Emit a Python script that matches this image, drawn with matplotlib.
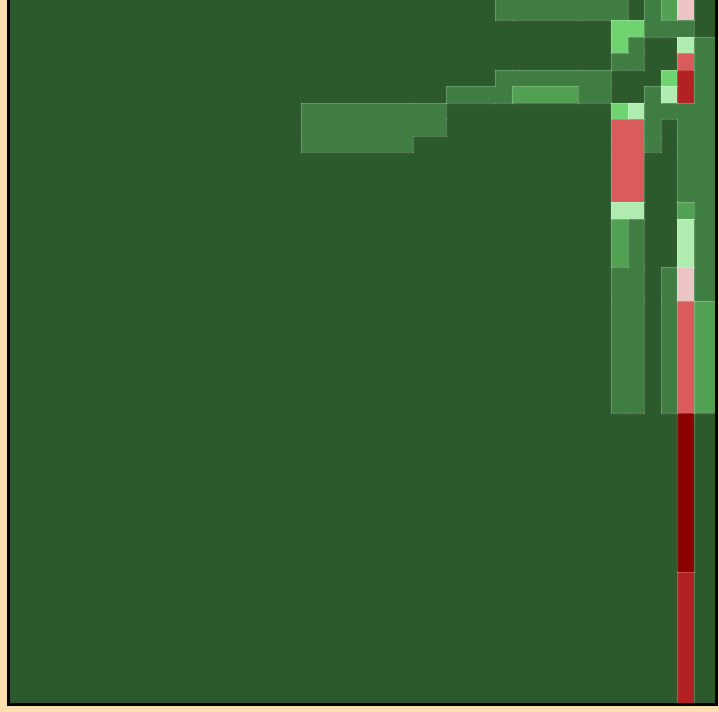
import matplotlib

matplotlib.use("Agg")

import matplotlib.pyplot as plt
import numpy as np
from matplotlib.colors import ListedColormap, BoundaryNorm

# column widths and row heights of the grid cells
col_widths = [293, 112, 33, 49, 17, 66, 33, 16.5, 16.5, 16.5, 16.5, 16.5, 22.5]
row_heights = [20, 16.5, 16.5, 16.5, 16.5, 16.5, 16.5, 16.5, 16.5,
               50, 16.5, 48.5, 33.5, 112, 159.5, 131.5]

# category of each cell (0 = background dark green ... 8 = dark red)
cells = [
    [0, 0, 0, 0, 1, 1, 1, 1, 0, 1, 2, 5, 0],
    [0, 0, 0, 0, 0, 0, 0, 3, 3, 1, 1, 1, 0],
    [0, 0, 0, 0, 0, 0, 0, 3, 1, 0, 0, 4, 1],
    [0, 0, 0, 0, 0, 0, 0, 1, 1, 0, 0, 6, 1],
    [0, 0, 0, 0, 1, 1, 1, 0, 0, 0, 3, 7, 1],
    [0, 0, 0, 1, 1, 2, 1, 0, 0, 1, 4, 7, 1],
    [0, 1, 1, 0, 0, 0, 0, 3, 4, 1, 1, 1, 1],
    [0, 1, 1, 0, 0, 0, 0, 6, 6, 1, 0, 1, 1],
    [0, 1, 0, 0, 0, 0, 0, 6, 6, 1, 0, 1, 1],
    [0, 0, 0, 0, 0, 0, 0, 6, 6, 0, 0, 1, 1],
    [0, 0, 0, 0, 0, 0, 0, 4, 4, 0, 0, 2, 1],
    [0, 0, 0, 0, 0, 0, 0, 2, 1, 0, 0, 4, 1],
    [0, 0, 0, 0, 0, 0, 0, 1, 1, 0, 1, 5, 1],
    [0, 0, 0, 0, 0, 0, 0, 1, 1, 0, 1, 6, 2],
    [0, 0, 0, 0, 0, 0, 0, 0, 0, 0, 0, 8, 0],
    [0, 0, 0, 0, 0, 0, 0, 0, 0, 0, 0, 7, 0],
]

palette = ["#2d5a2d", "#407d43", "#52a052", "#6fd46f", "#b0ecb0",
           "#ecc4c4", "#d95b5b", "#b22222", "#8b0000"]

x_edges = np.concatenate([[0], np.cumsum(col_widths)])
y_edges = np.concatenate([[0], np.cumsum(row_heights)])
grid = np.array(cells)

fig = plt.figure(figsize=(7.19, 7.12), dpi=100, facecolor="#ffdead")
ax = fig.add_axes([8 / 719, 8.5 / 712, 708 / 719, 703.5 / 712])

cmap = ListedColormap(palette)
norm = BoundaryNorm(np.arange(len(palette) + 1) - 0.5, len(palette))
ax.pcolormesh(x_edges, y_edges, grid, cmap=cmap, norm=norm, shading="flat")

# faint outline where neighbouring cells differ
line_kw = dict(color="white", alpha=0.18, linewidth=0.9)
for i in range(grid.shape[0]):
    for j in range(grid.shape[1] - 1):
        if grid[i, j] != grid[i, j + 1]:
            ax.plot([x_edges[j + 1]] * 2, [y_edges[i], y_edges[i + 1]], **line_kw)
for i in range(grid.shape[0] - 1):
    for j in range(grid.shape[1]):
        if grid[i, j] != grid[i + 1, j]:
            ax.plot([x_edges[j], x_edges[j + 1]], [y_edges[i + 1]] * 2, **line_kw)

ax.set_xlim(x_edges[0], x_edges[-1])
ax.set_ylim(y_edges[-1], y_edges[0])
ax.set_xticks([])
ax.set_yticks([])
ax.spines["top"].set_visible(False)
for side in ("left", "right", "bottom"):
    ax.spines[side].set_color("black")
    ax.spines[side].set_linewidth(2.2)

fig.savefig("out.png", dpi=100, facecolor=fig.get_facecolor())
